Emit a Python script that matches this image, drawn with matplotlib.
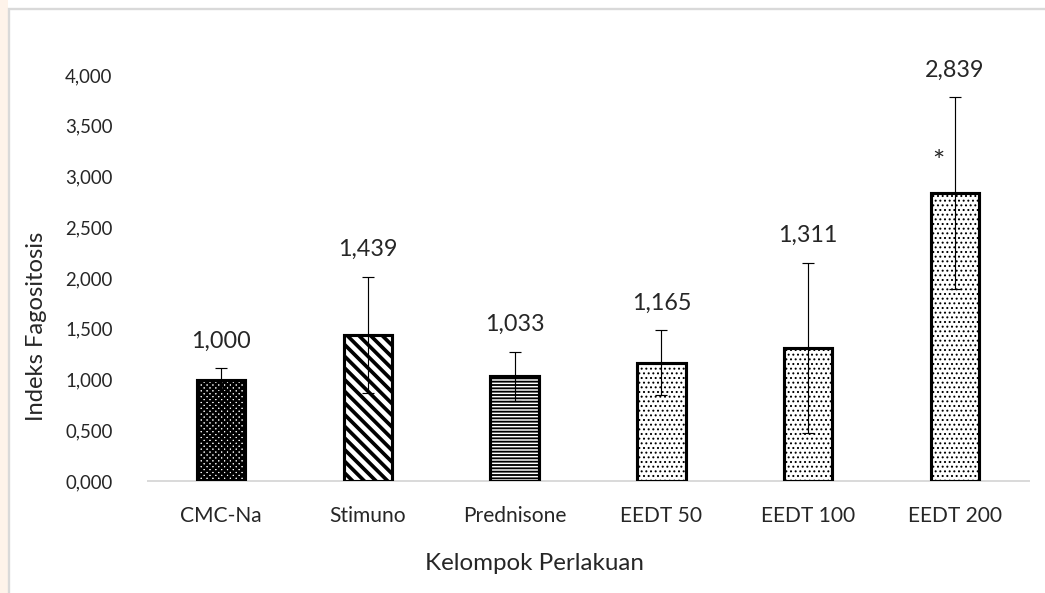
import matplotlib
matplotlib.use("Agg")
import matplotlib.pyplot as plt
from matplotlib.patches import Rectangle
from matplotlib.ticker import FuncFormatter, MultipleLocator

# Data
groups = ["CMC-Na", "Stimuno", "Prednisone", "EEDT 50", "EEDT 100", "EEDT 200"]
means = [1.000, 1.439, 1.033, 1.165, 1.311, 2.839]
sds = [0.11, 0.575, 0.24, 0.32, 0.84, 0.945]
significant = [False, False, False, False, False, True]

hatches = ["xxxxxxxx", "\\\\\\\\", "-------", ".....", ".....", "....."]
hatch_widths = [1.35, 1.9, 0.95, 0.6, 0.6, 0.6]

DPI = 140
W, H = 1045, 593
plt.rcParams["font.family"] = ["Lato", "DejaVu Sans"]
plt.rcParams["hatch.color"] = "black"
TXT = "#262626"

fig = plt.figure(figsize=(W / DPI, H / DPI), dpi=DPI)
fig.patch.set_facecolor("white")

# chart frame and left margin strip
fig.add_artist(Rectangle((0, 0), 8 / W, 1, transform=fig.transFigure,
                         facecolor="#FEF3EA", edgecolor="none", zorder=0))
fig.add_artist(Rectangle((9 / W, -0.1), 1.2, 1 - 9 / H + 0.1, transform=fig.transFigure,
                         facecolor="none", edgecolor="#D9D9D9", linewidth=1.2, zorder=1))

ax = fig.add_axes([147.5 / W, 1 - 481 / H, 881 / W, 406 / H])
ax.set_facecolor("none")

x = list(range(len(groups)))
for i in x:
    with plt.rc_context({"hatch.linewidth": hatch_widths[i]}):
        bars = ax.bar(i, means[i], width=0.33, facecolor="white", edgecolor="black",
                      linewidth=1.6, hatch=hatches[i], zorder=2)
    for b in bars:
        if hasattr(b, "set_hatch_linewidth"):
            b.set_hatch_linewidth(hatch_widths[i])

ax.errorbar(x, means, yerr=sds, fmt="none", ecolor="black", elinewidth=0.6,
            capsize=2.9, capthick=0.6, zorder=3)

fmt = lambda v: f"{v:.3f}".replace(".", ",")
for i in x:
    ax.annotate(fmt(means[i]), (i, means[i] + sds[i]), xytext=(0, 27),
                textcoords="offset pixels", ha="center", va="center",
                fontsize=12, color=TXT, annotation_clip=False)
    if significant[i]:
        ax.annotate("*", (i, means[i]), xytext=(-17, 30), textcoords="offset pixels",
                    ha="center", va="center", fontsize=15, color=TXT,
                    annotation_clip=False)

ax.set_xlim(-0.5, len(groups) - 0.5)
ax.set_ylim(0, 4.0)
ax.yaxis.set_major_locator(MultipleLocator(0.5))
ax.yaxis.set_major_formatter(FuncFormatter(lambda v, p: fmt(v)))
ax.set_xticks(x)
ax.set_xticklabels(groups)
ax.tick_params(axis="both", length=0, labelcolor=TXT)
ax.tick_params(axis="x", pad=13, labelsize=10.8)
ax.tick_params(axis="y", pad=18, labelsize=9.6)

for s in ["top", "right", "left"]:
    ax.spines[s].set_visible(False)
ax.spines["bottom"].set_color("#D9D9D9")
ax.spines["bottom"].set_linewidth(1.0)
ax.spines["bottom"].set_zorder(1)

fig.text(37 / W, 1 - 326 / H, "Indeks Fagositosis", rotation=90, ha="center",
         va="center", fontsize=12.2, color=TXT)
fig.text(534 / W, 1 - 563 / H, "Kelompok Perlakuan", ha="center", va="center",
         fontsize=12.4, color=TXT)

fig.savefig("out.png", dpi=DPI, facecolor="white")
